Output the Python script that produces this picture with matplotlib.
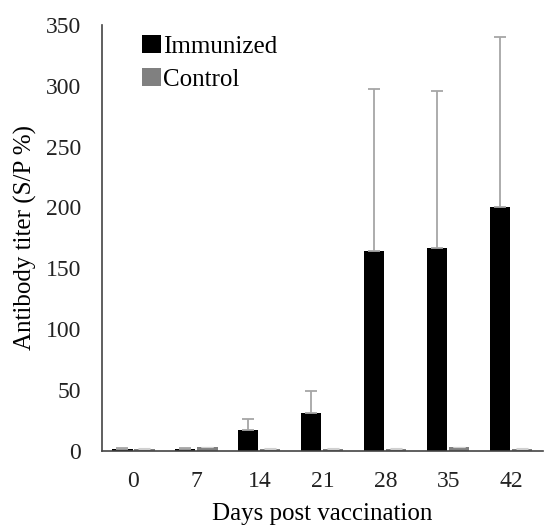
import matplotlib.pyplot as plt
import numpy as np

days = ["0", "7", "14", "21", "28", "35", "42"]
immunized = [2, 2, 17, 31, 164, 167, 200]
immunized_err = [0.5, 0.5, 9, 18, 133, 129, 140]
control = [2, 3, 2, 2, 2, 3, 2]
control_err = [0.3, 0.3, 0.3, 0.3, 0.3, 0.3, 0.3]

plt.rcParams['font.family'] = ['Liberation Serif', 'DejaVu Serif']

fig = plt.figure(figsize=(5.44, 5.27), dpi=100)
ax = fig.add_axes([0.1875, 0.144, 0.81, 0.809])

x = np.arange(len(days))
w = 0.32
err_style = dict(ecolor="#a6a6a6", elinewidth=1.3, capsize=4, capthick=1.3)
ax.bar(x - w/2 - 0.015, immunized, w, color="black", label="Immunized",
       yerr=[np.zeros(len(days)), immunized_err], error_kw=err_style)
ax.bar(x + w/2 + 0.015, control, w, color="#808080", label="Control",
       yerr=[np.zeros(len(days)), control_err],
       error_kw=dict(err_style, ecolor="#d0d0d0", elinewidth=0.8, capthick=0.8))

ax.set_xlim(-0.5, len(days) - 0.5)
ax.set_ylim(0, 350)
ax.set_yticks(range(0, 351, 50))
ax.set_xticks(x)
ax.set_xticklabels(days)
ax.tick_params(axis="both", length=0, labelsize=17, colors="#222222")
ax.tick_params(axis="y", pad=15)
ax.tick_params(axis="x", pad=14)
for s in ["top", "right"]:
    ax.spines[s].set_visible(False)
for s in ["left", "bottom"]:
    ax.spines[s].set_color("#444444")
    ax.spines[s].set_linewidth(1.2)

ax.set_xlabel("Days post vaccination", fontsize=18, labelpad=8)
ax.set_ylabel("Antibody titer (S/P %)", fontsize=18, labelpad=6)

ax.legend(loc="upper left", bbox_to_anchor=(0.062, 1.005), frameon=False,
          fontsize=18, handlelength=0.75, handleheight=0.7,
          handletextpad=0.1, borderpad=0, labelspacing=0.42)

fig.savefig("out.png", dpi=100)
